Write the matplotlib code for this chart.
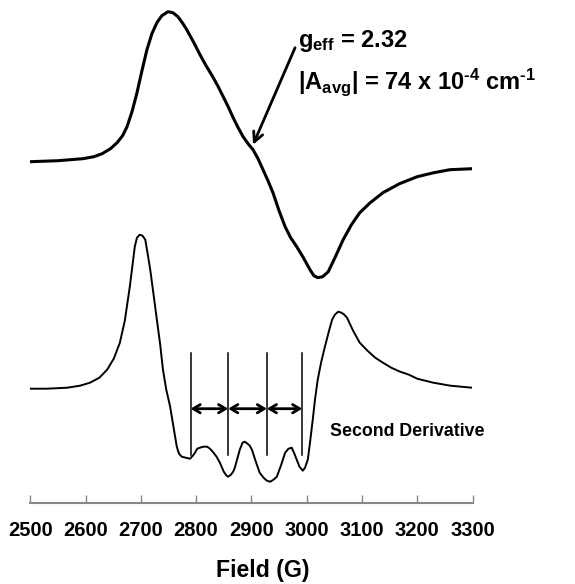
import matplotlib
matplotlib.use("Agg")
import matplotlib.pyplot as plt

plt.rcParams['font.family'] = ['Liberation Sans', 'DejaVu Sans']
plt.rcParams['mathtext.fontset'] = 'custom'
plt.rcParams['mathtext.rm'] = 'Liberation Sans:bold'
plt.rcParams['mathtext.it'] = 'Liberation Sans:bold'
plt.rcParams['mathtext.bf'] = 'Liberation Sans:bold'

# first derivative spectrum (field in G, intensity in arbitrary units)
field_1st = [2500, 2550, 2595, 2615, 2630, 2645, 2657, 2667, 2675, 2684, 2693, 2702,
             2711, 2720, 2729, 2738, 2749, 2758, 2767, 2775, 2783, 2795, 2807, 2818,
             2830, 2840, 2849, 2858, 2867, 2876, 2885, 2894, 2903, 2912, 2921, 2930,
             2939, 2950, 2961, 2971, 2982, 2994, 3006, 3013, 3020, 3029, 3039, 3052,
             3066, 3081, 3096, 3115, 3138, 3168, 3200, 3230, 3259, 3300]
signal_1st = [341, 342, 344, 346, 349, 354, 360, 367, 376, 391, 410, 432,
              453, 469, 480, 487, 491, 490, 486, 480, 473, 461, 448, 437,
              426, 416, 406, 396, 385, 375, 366, 359, 353, 344, 333, 322,
              310, 292, 276, 265, 256, 245, 233, 227, 225, 226, 231, 246,
              263, 278, 290, 300, 310, 319, 326, 330, 333, 334]

# second derivative spectrum
field_2nd = [2500, 2530, 2567, 2590, 2608, 2625, 2639, 2651, 2662, 2671, 2680, 2685,
             2689, 2693, 2698, 2703, 2708, 2712, 2717, 2723, 2729, 2735, 2740, 2746,
             2753, 2759, 2765, 2769, 2774, 2781, 2789, 2794, 2798, 2802, 2807, 2813,
             2820, 2825, 2830, 2837, 2843, 2850, 2855, 2858, 2863, 2867, 2870, 2875,
             2879, 2884, 2888, 2893, 2897, 2901, 2908, 2915, 2922, 2928, 2934, 2940,
             2946, 2954, 2961, 2967, 2973, 2977, 2982, 2987, 2993, 2997, 3002, 3006,
             3011, 3015, 3020, 3026, 3033, 3040, 3046, 3051, 3057, 3063, 3068, 3073,
             3084, 3096, 3110, 3124, 3138, 3153, 3169, 3185, 3200, 3229, 3260, 3299]
signal_2nd = [114, 114, 115, 117, 120, 125, 133, 144, 160, 182, 216, 238,
              256, 265, 268, 267, 263, 250, 233, 208, 183, 158, 133, 113,
              96, 76, 56, 49, 46, 45, 44, 47, 50, 54, 55, 56,
              56, 54, 51, 46, 40, 31, 27, 26, 28, 31, 35, 45,
              53, 60, 61, 59, 57, 53, 41, 30, 25, 22, 21, 23,
              26, 38, 50, 54, 55, 50, 43, 36, 32, 35, 43, 60,
              83, 103, 123, 140, 156, 171, 183, 188, 191, 190, 188, 185,
              172, 160, 152, 145, 140, 135, 131, 128, 124, 120, 117, 115]

# hyperfine line positions
hf_lines = [2790, 2858, 2928, 2992]

ticks = [2500, 2600, 2700, 2800, 2900, 3000, 3100, 3200, 3300]

fig = plt.figure(figsize=(5.75, 5.84), dpi=100)
ax = fig.add_axes([30.3 / 575, 81.3 / 584, 442.2 / 575, 502.7 / 584])

ax.plot(field_1st, signal_1st, color='black', lw=2.2, solid_joinstyle='round')
ax.plot(field_2nd, signal_2nd, color='black', lw=1.4, solid_joinstyle='round')

for f in hf_lines:
    ax.plot([f, f], [48, 150], color='black', lw=1.1)
for a, b in zip(hf_lines[:-1], hf_lines[1:]):
    ax.annotate('', xy=(b, 94), xytext=(a, 94),
                arrowprops=dict(arrowstyle='<->,head_length=0.5,head_width=0.3',
                                lw=2, color='black', shrinkA=0, shrinkB=0))

ax.annotate('', xy=(2903, 358), xytext=(2979, 455),
            arrowprops=dict(arrowstyle='->,head_length=0.7,head_width=0.35',
                            lw=2, color='black', shrinkA=0, shrinkB=0))
ax.text(2984, 462, r'g$_{\rm eff}$ = 2.32', fontsize=17, fontweight='bold',
        va='center', ha='left')
ax.text(2984, 421, r'|A$_{\rm avg}$| = 74 x 10$^{\text{-4}}$ cm$^{\text{-1}}$', fontsize=17,
        fontweight='bold', va='center', ha='left', clip_on=False)
ax.text(3042, 71, 'Second Derivative', fontsize=12.8, fontweight='bold',
        va='center', ha='left')

ax.set_xlim(2500, 3300)
ax.set_ylim(0, 502.7)
ax.set_xticks(ticks)
ax.set_xticklabels([str(t) for t in ticks], fontsize=14.5, fontweight='bold')
ax.set_yticks([])
for s in ['top', 'right', 'left']:
    ax.spines[s].set_visible(False)
ax.spines['bottom'].set_color('#888888')
ax.spines['bottom'].set_linewidth(1.5)
ax.tick_params(axis='x', direction='in', length=6, width=1, color='#888888', pad=13)

fig.text(263 / 575, 1 - 571 / 584, 'Field (G)', fontsize=16.7, fontweight='bold',
         ha='center', va='center')

fig.savefig('out.png', dpi=100)
